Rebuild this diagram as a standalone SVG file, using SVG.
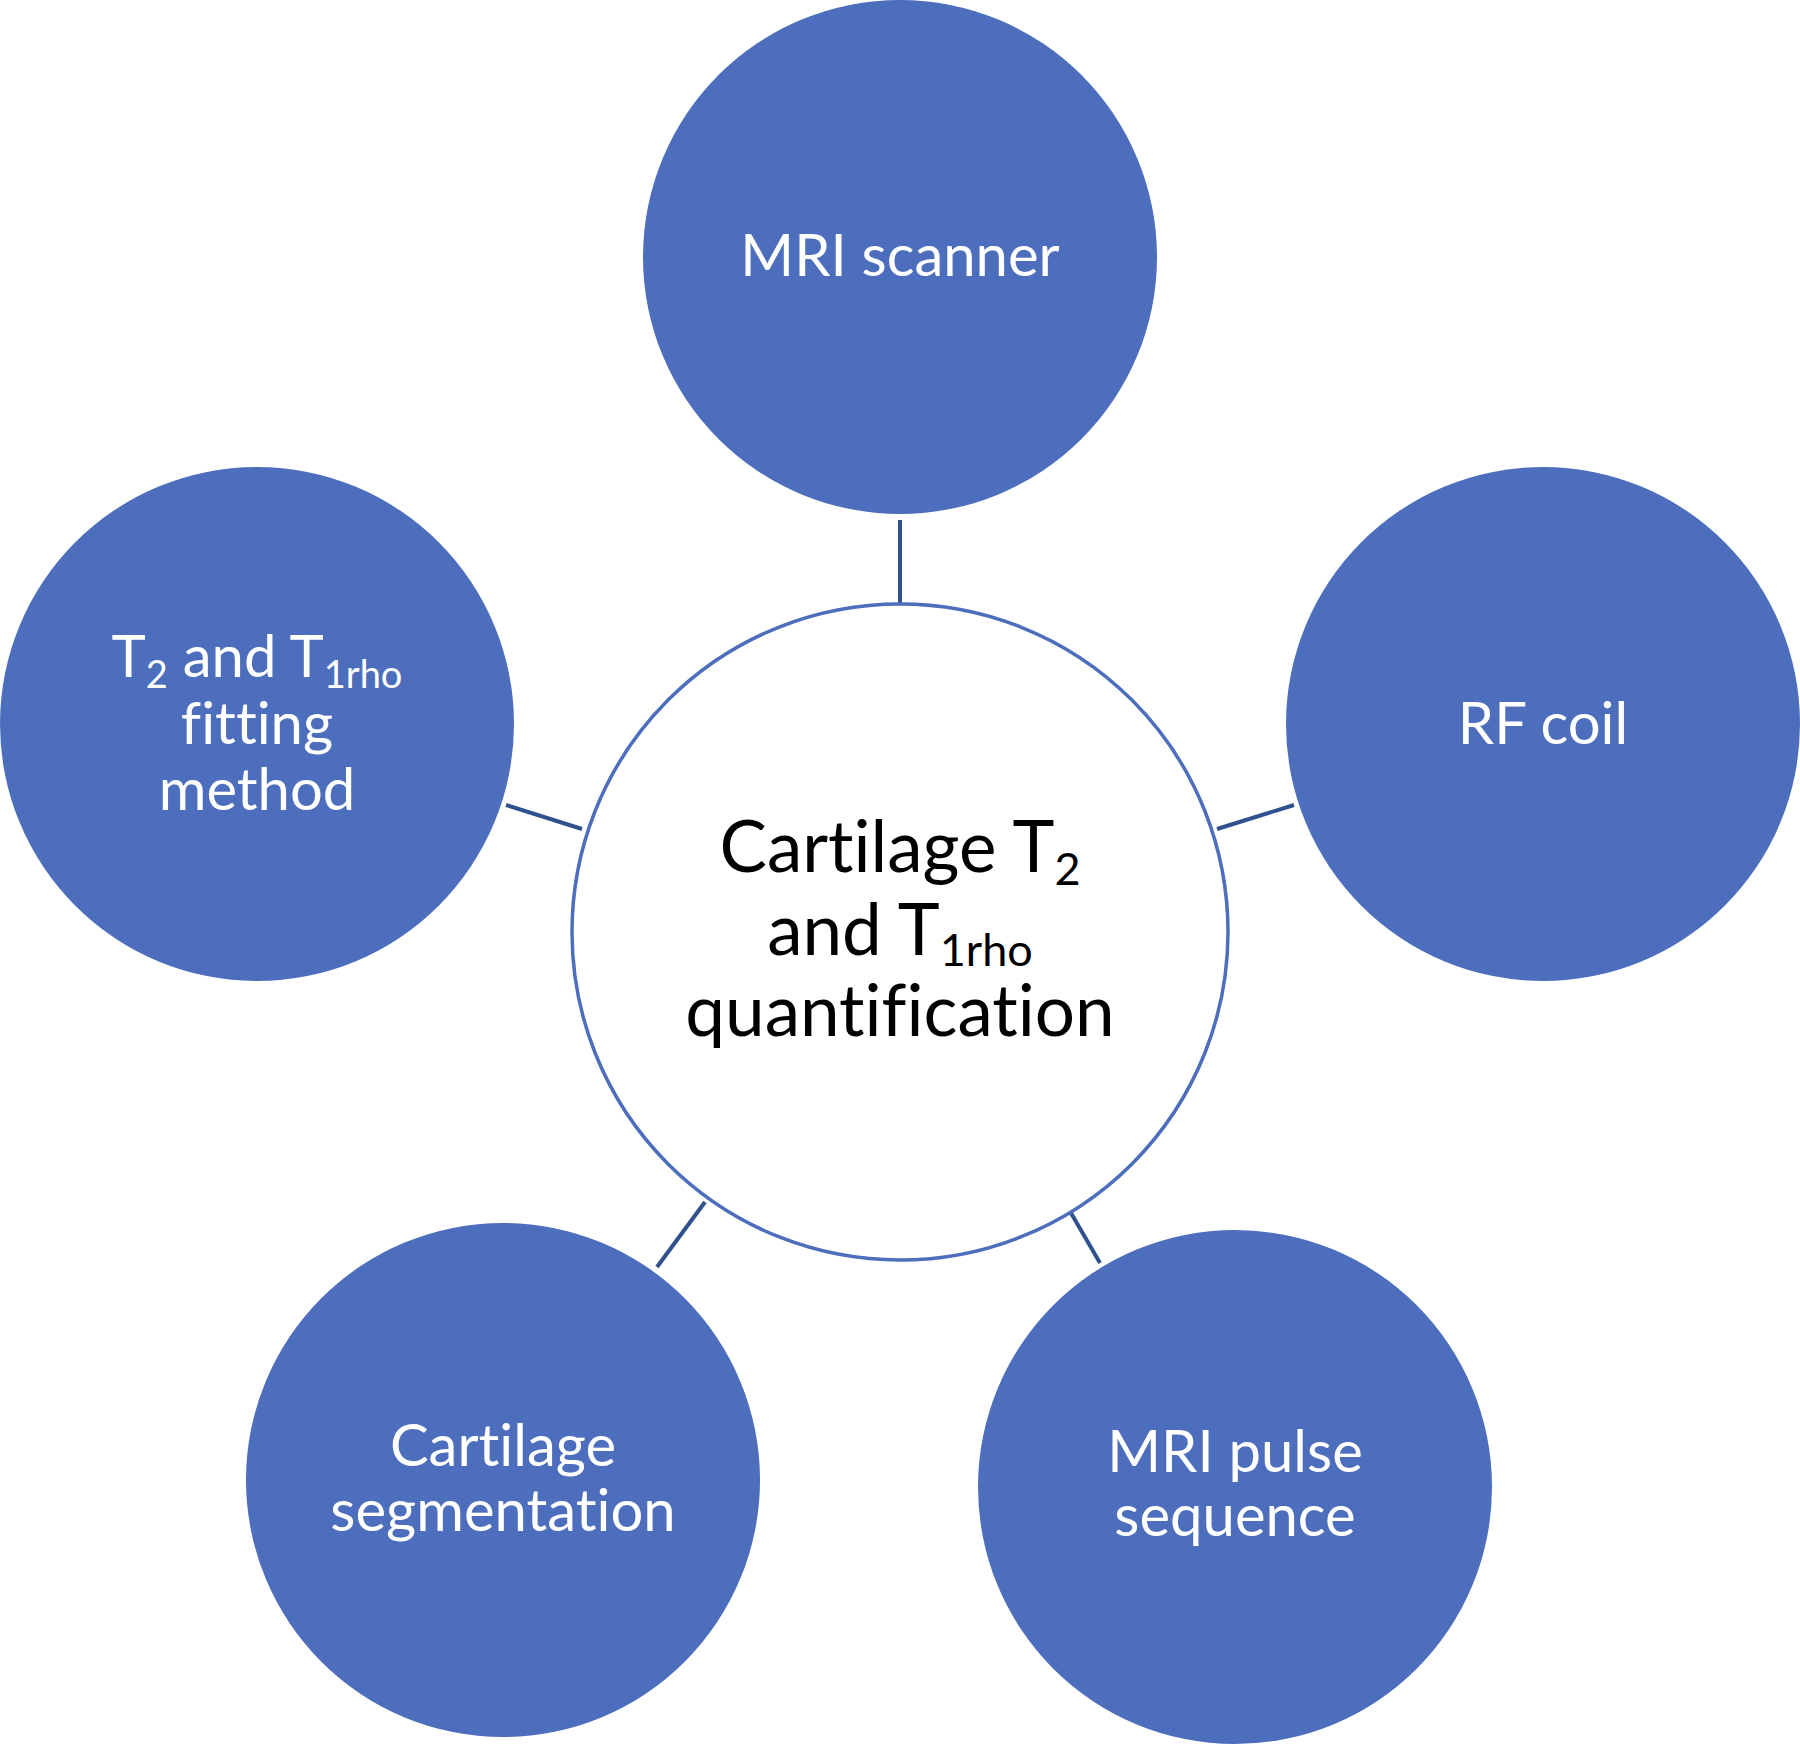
<svg xmlns="http://www.w3.org/2000/svg" width="1800" height="1745" viewBox="0 0 1800 1745">
<style>
.node{fill:#4C6EBC;}
.hub{fill:#FFFFFF;stroke:#4C6EBC;stroke-width:3.5;}
.conn{stroke:#2F528F;stroke-width:4;fill:none;}
.lbl{font-family:Lato,"Open Sans","Liberation Sans",sans-serif;font-size:58px;fill:#FFFFFF;text-anchor:middle;font-variant-ligatures:none;}
.hlbl{font-family:Lato,"Open Sans","Liberation Sans",sans-serif;font-size:71px;fill:#000000;text-anchor:middle;font-variant-ligatures:none;}
</style>
<rect width="1800" height="1745" fill="#FFFFFF"/>
<g id="connectors">
<line class="conn" x1="900" y1="520" x2="900" y2="605"/>
<line class="conn" x1="506" y1="805" x2="582" y2="829"/>
<line class="conn" x1="1217" y1="829" x2="1294" y2="805"/>
<line class="conn" x1="705" y1="1202" x2="657" y2="1267"/>
<line class="conn" x1="1071" y1="1213" x2="1100" y2="1263"/>
</g>
<g id="hub">
<circle class="hub" cx="900" cy="932" r="328"/>
<text class="hlbl" x="900" y="872">Cartilage T<tspan font-size="45" dy="13">2</tspan></text>
<text class="hlbl" x="900" y="955">and T<tspan font-size="45" dy="11">1rho</tspan></text>
<text class="hlbl" x="900" y="1036">quantification</text>
</g>
<g id="mri-scanner">
<circle class="node" cx="900" cy="257" r="257"/>
<text class="lbl" x="900" y="276">MRI scanner</text>
</g>
<g id="rf-coil">
<circle class="node" cx="1543" cy="724" r="257"/>
<text class="lbl" x="1543" y="744">RF coil</text>
</g>
<g id="fitting-method">
<circle class="node" cx="257" cy="724" r="257"/>
<text class="lbl" x="257" y="677">T<tspan font-size="38" dy="11">2</tspan><tspan dy="-11"> and T</tspan><tspan font-size="38" dy="11">1rho</tspan></text>
<text class="lbl" x="257" y="744">fitting</text>
<text class="lbl" x="257" y="810">method</text>
</g>
<g id="segmentation">
<circle class="node" cx="503" cy="1480" r="257"/>
<text class="lbl" x="503" y="1466">Cartilage</text>
<text class="lbl" x="503" y="1531">segmentation</text>
</g>
<g id="pulse-sequence">
<circle class="node" cx="1235" cy="1487" r="257"/>
<text class="lbl" x="1235" y="1472">MRI pulse</text>
<text class="lbl" x="1235" y="1536">sequence</text>
</g>
</svg>
